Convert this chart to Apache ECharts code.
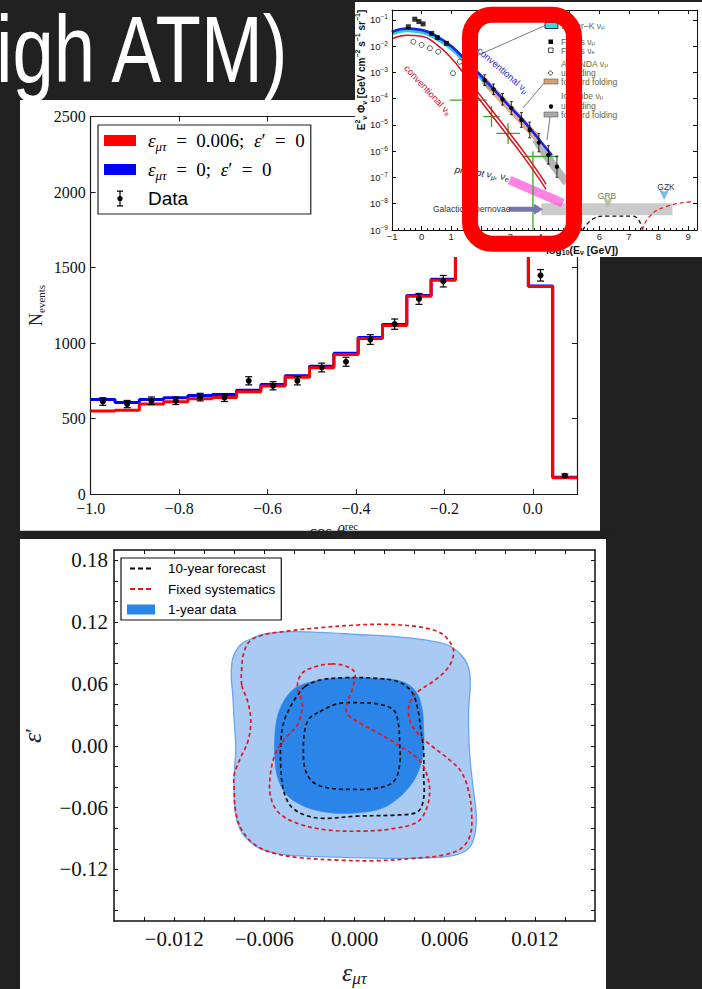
<!DOCTYPE html>
<html>
<head>
<meta charset="utf-8">
<title>NSI fit - atmospheric</title>
<script src="https://cdn.jsdelivr.net/npm/echarts@6/dist/echarts.min.js"></script>
<style>
  html, body { margin: 0; padding: 0; background: #212121; }
  #chart { width: 702px; height: 989px; }
</style>
</head>
<body>
<div id="chart"></div>
<script>
// ---------- top panel: cos(zenith) distribution ----------
var binEdges   = [-1.0, -0.945, -0.89, -0.835, -0.78, -0.725, -0.67, -0.615, -0.56, -0.505, -0.45, -0.395, -0.34, -0.285, -0.23, -0.175, -0.12, -0.065, -0.01, 0.045, 0.1];
var nsiCounts  = [551, 557, 597, 612, 632, 641, 678, 716, 775, 837, 925, 1031, 1117, 1311, 1416, 1690, 1860, 1980, 1375, 110];
var smCounts   = [628, 608, 628, 639, 654, 661, 689, 727, 784, 848, 934, 1037, 1123, 1315, 1423, 1700, 1870, 1990, 1378, 112];
var dataCos    = [-0.9725, -0.9175, -0.8625, -0.8075, -0.7525, -0.6975, -0.6425, -0.5875, -0.5325, -0.4775, -0.4225, -0.3675, -0.3125, -0.2575, -0.2025, -0.1475, -0.0925, -0.0375, 0.0175, 0.0725];
var dataCounts = [614, 597, 619, 619, 643, 639, 751, 718, 751, 839, 877, 1024, 1126, 1293, 1410, 1720, 1880, 2000, 1449, 123];
var dataErr    = [25, 24, 25, 25, 25, 25, 27, 27, 27, 29, 30, 32, 34, 36, 38, 41, 43, 45, 38, 11];

// ---------- bottom panel: allowed regions (eps_mutau, eps') ----------
var tickX  = [-0.014, -0.012, -0.010, -0.008, -0.006, -0.004, -0.002, 0, 0.002, 0.004, 0.006, 0.008, 0.010, 0.012, 0.014];
var labelX = [-0.012, -0.006, 0, 0.006, 0.012];
var tickY  = [-0.16, -0.14, -0.12, -0.10, -0.08, -0.06, -0.04, -0.02, 0, 0.02, 0.04, 0.06, 0.08, 0.10, 0.12, 0.14, 0.16, 0.18];
var labelY = [-0.12, -0.06, 0, 0.06, 0.12, 0.18];

var oneYearOuter = [[-0.0073,0.101],[-0.0061,0.108],[-0.0043,0.1107],[-0.0023,0.110],[0.0002,0.108],[0.0027,0.106],[0.0047,0.1027],[0.0062,0.0978],[0.0071,0.0881],[0.0076,0.0752],[0.0077,0.059],[0.0076,0.0363],[0.0076,0.0105],[0.0077,-0.0154],[0.0079,-0.0413],[0.0081,-0.0672],[0.0080,-0.0866],[0.0076,-0.0995],[0.0067,-0.106],[0.0052,-0.1086],[0.0027,-0.1092],[0.0002,-0.1086],[-0.0023,-0.1076],[-0.0048,-0.1054],[-0.0063,-0.0995],[-0.0073,-0.0882],[-0.0078,-0.0737],[-0.0080,-0.0542],[-0.0080,-0.0284],[-0.0079,-0.0025],[-0.0080,0.0234],[-0.0081,0.0493],[-0.0082,0.0687],[-0.0081,0.0849],[-0.0077,0.0962]];
var oneYearInner = [[-0.0038,0.0574],[-0.0023,0.0638],[-0.0006,0.0661],[0.0014,0.0655],[0.0032,0.0622],[0.0041,0.0525],[0.0045,0.0363],[0.0046,0.0169],[0.0046,-0.0025],[0.0044,-0.0187],[0.0039,-0.0348],[0.0029,-0.051],[0.0017,-0.0614],[-0.0003,-0.0656],[-0.0018,-0.0646],[-0.0033,-0.0591],[-0.0045,-0.0478],[-0.0051,-0.0316],[-0.0053,-0.0122],[-0.0053,0.0105],[-0.0051,0.0299],[-0.0046,0.046]];
var forecastOuter = [[-0.0033,0.0574],[-0.0023,0.0638],[-0.0006,0.0661],[0.0014,0.0655],[0.0029,0.0622],[0.0038,0.0525],[0.0042,0.0363],[0.0044,0.0169],[0.0046,-0.0057],[0.0046,-0.0284],[0.0046,-0.051],[0.0042,-0.064],[0.0027,-0.0672],[0.0002,-0.0682],[-0.0021,-0.0704],[-0.0033,-0.0672],[-0.0042,-0.0591],[-0.0047,-0.0445],[-0.0049,-0.0219],[-0.0049,0.004],[-0.0047,0.0234],[-0.0042,0.0396],[-0.0037,0.0509]];
var forecastInner = [[-0.0023,0.0331],[-0.0011,0.0409],[0.0002,0.0418],[0.0017,0.0402],[0.0026,0.0347],[0.0029,0.0234],[0.0030,0.004],[0.0030,-0.0187],[0.0026,-0.0348],[0.0014,-0.0413],[-0.0003,-0.0423],[-0.0018,-0.0407],[-0.0028,-0.0348],[-0.0033,-0.0219],[-0.0034,-0.0025],[-0.0033,0.0153],[-0.0030,0.0266]];
var fixedOuter = [[-0.0075,0.059],[-0.0075,0.0752],[-0.0074,0.0881],[-0.0070,0.101],[-0.0061,0.1075],[-0.0048,0.1107],[-0.0023,0.1146],[0.0002,0.1172],[0.0019,0.1179],[0.0042,0.1156],[0.0057,0.1098],[0.0064,0.0994],[0.0066,0.0897],[0.0062,0.0752],[0.0052,0.0622],[0.0042,0.0525],[0.0038,0.046],[0.0036,0.0363],[0.0037,0.0234],[0.0043,0.0105],[0.0052,-0.0009],[0.0062,-0.0122],[0.0071,-0.0251],[0.0076,-0.0445],[0.0078,-0.0672],[0.0077,-0.0866],[0.0071,-0.0995],[0.0059,-0.106],[0.0039,-0.1092],[0.0014,-0.1115],[-0.0011,-0.1109],[-0.0036,-0.1086],[-0.0053,-0.1044],[-0.0066,-0.0963],[-0.0075,-0.0817],[-0.0079,-0.064],[-0.0080,-0.0445],[-0.0080,-0.0284],[-0.0076,-0.0122],[-0.0071,0.004],[-0.0069,0.0234],[-0.0071,0.0428]];
var fixedInner = [[-0.0015,0.0794],[-0.0026,0.0768],[-0.0035,0.0703],[-0.0038,0.0574],[-0.0035,0.0428],[-0.0035,0.0331],[-0.0038,0.0202],[-0.0047,0.0056],[-0.0053,-0.009],[-0.0056,-0.0284],[-0.0056,-0.0478],[-0.0051,-0.064],[-0.0038,-0.0753],[-0.0018,-0.0817],[0.0007,-0.0827],[0.0027,-0.0801],[0.0042,-0.0737],[0.0048,-0.0607],[0.0050,-0.0413],[0.0047,-0.0235],[0.0042,-0.0122],[0.0029,0.0008],[0.0014,0.0137],[0.0002,0.0234],[-0.0005,0.0315],[-0.0005,0.0412],[-0.0002,0.0525],[0.0000,0.0638],[0.0000,0.0719],[-0.0006,0.0774]];

// ---------- inset: atmospheric flux, log10(E/GeV) vs log10(E^2 Phi) ----------
var fluxBands  = [[-1, 1.18], [2.27, 4.2], [4.9, 7.0]];
var convMu     = [[-1,-1.45],[-0.5,-1.32],[0,-1.38],[0.5,-1.62],[1,-2.0],[1.5,-2.55],[2,-3.12],[2.5,-3.72],[3,-4.33],[3.5,-4.92],[4,-5.6],[4.4,-6.15]];
var superK     = [[-1,-1.5],[-0.5,-1.37],[0,-1.43],[0.5,-1.67],[1,-2.05],[1.5,-2.6],[2,-3.17],[2.4,-3.65]];
var convE      = [[-1,-1.72],[-0.5,-1.58],[0,-1.62],[0.5,-1.93],[1,-2.45],[1.5,-3.15],[2,-3.9],[2.5,-4.62],[3,-5.35],[3.5,-6.1],[4,-6.9],[4.2,-7.25]];
var convE2     = [[1.8,-3.8],[2.5,-4.82],[3,-5.55],[3.5,-6.3],[4,-7.1],[4.2,-7.45]];
var amandaBand = [[2.1,-3.3],[2.6,-3.9],[3.1,-4.5],[3.6,-5.12],[3.9,-5.5]];
var iceBand    = [[3.85,-5.55],[4.3,-6.3],[4.9,-7.2]];
var iceCubePts = [[2.13,-3.29,0.2],[2.43,-3.64,0.2],[2.73,-4.02,0.22],[3.03,-4.36,0.25],[3.37,-4.81,0.28],[3.65,-5.19,0.3],[3.96,-5.67,0.35],[4.28,-6.14,0.35],[4.57,-6.59,0.4]];
var frejusMu   = [[-0.45,-1.26],[-0.23,-0.97],[-0.09,-1.06],[0.05,-1.15],[0.34,-1.51],[0.53,-1.67],[0.84,-1.89]];
var openPts    = [[-0.28,-1.83],[0,-1.95],[0.28,-2.08],[0.56,-2.21],[1.06,-3.03],[1.29,-2.59]];
var greenCross = [[1.57,-4.05,0.95,2.2,-4.55,-3.55],[2.36,-4.68,2.08,2.64,-5.08,-4.28],[2.92,-5.32,2.52,3.32,-5.72,-4.92],[3.76,-6.2,3.42,4.6,-9,-6.0]];
var promptBand = [[2.97,-7.1],[4.77,-7.98]];
var snBand     = [[4.04,-8.21],[8.47,-8.21]];
var snArrow    = [[2.95,-8.21],[3.95,-8.21]];
var grbFlux    = [[5.44,-9],[5.84,-8.55],[6.23,-8.47],[7.13,-8.47],[7.46,-9]];
var gzkFlux    = [[7.46,-9],[7.69,-8.49],[8.25,-8.11],[9.14,-7.92]];
var grbArrow   = [[6.29,-8.16]];
var gzkArrow   = [[8.19,-7.86]];

var serif = 'Liberation Serif', sans = 'Liberation Sans';

function fmtNum(v, d) {
  if (Math.abs(v) < 1e-12) v = 0;
  return (v < 0 ? '\u2212' : '') + Math.abs(v).toFixed(d);
}
// histogram as step line: one point per bin edge
function stepData(counts) {
  var pts = [];
  for (var i = 0; i < binEdges.length; i++) {
    pts.push([binEdges[i], counts[Math.min(i, counts.length - 1)]]);
  }
  return pts;
}
function axis(o) {
  var a = {
    type: 'value',
    splitLine: {show: false},
    axisLine: {onZero: false, lineStyle: {color: '#1a1a1a', width: 1.2}},
    axisTick: {inside: true, length: 5, lineStyle: {color: '#1a1a1a', width: 1}},
    axisLabel: {show: false},
    nameMoveOverlap: false
  };
  for (var k in o) a[k] = o[k];
  return a;
}

// error bar + dot, used in main panel and inset
function errorBarRenderer(capHalf, r, lw) {
  return function (params, api) {
    var x = api.value(0), y = api.value(1), e = api.value(2);
    var c = api.coord([x, y]), hi = api.coord([x, y + e]), lo = api.coord([x, y - e]);
    var st = {stroke: '#000', lineWidth: lw};
    return {type: 'group', children: [
      {type: 'line', shape: {x1: c[0], y1: hi[1], x2: c[0], y2: lo[1]}, style: st},
      {type: 'line', shape: {x1: c[0] - capHalf, y1: hi[1], x2: c[0] + capHalf, y2: hi[1]}, style: st},
      {type: 'line', shape: {x1: c[0] - capHalf, y1: lo[1], x2: c[0] + capHalf, y2: lo[1]}, style: st},
      {type: 'circle', shape: {cx: c[0], cy: c[1], r: r}, style: {fill: '#000'}}
    ]};
  };
}
// closed contour polygons in the (eps_mutau, eps') plane
function contourSeries(name, color, z, shapes) {
  return {
    type: 'custom', name: name, xAxisIndex: 2, yAxisIndex: 2, z: z, clip: true,
    itemStyle: {color: color}, data: [[0, 0]], encode: {x: 0, y: 1},
    renderItem: function (params, api) {
      return {type: 'group', children: shapes.map(function (s) {
        return {type: 'polygon', shape: {points: s.pts.map(function (p) { return api.coord(p); }), smooth: 0.35}, style: s.style};
      })};
    }
  };
}
function insetLine(data, color, width, z, extra) {
  var s = {type: 'line', xAxisIndex: 4, yAxisIndex: 4, data: data, symbol: 'none', z: z,
    lineStyle: {color: color, width: width}, silent: true};
  for (var k in extra) s[k] = extra[k];
  return s;
}

var rectIcon = 'path://M0,0zM32,18zM0,3.5h32v11h-32z';
var errIcon  = 'path://M0,0zM32,18zM13,1h6v1.2h-6zM15.4,1h1.2v16h-1.2zM13,15.8h6v1.2h-6zM18.6,9a2.6,2.6 0 1,1 -5.2,0a2.6,2.6 0 1,1 5.2,0z';
var dashIcon = 'path://M0,0zM28,10zM3,4h5v2h-5zM11,4h5v2h-5zM19,4h5v2h-5z';

var topLegendText = {
  nsi: '{i|ε}{sub|μτ}{r|  =  0.006;  }{i|ε}{r|′  =  0}',
  sm: '{i|ε}{sub|μτ}{r|  =  0;  }{i|ε}{r|′  =  0}',
  Data: '{sans|Data}'
};

var lavender = '#b8b8f0', pink = '#f8c4c4', yellow = '#ffff9c';
var insetText = '#66663c';

var graphicEls = [
  // white slide panels
  {type: 'rect', z: -1, shape: {x: 20, y: 100, width: 580, height: 431}, style: {fill: '#fff'}},
  {type: 'rect', z: -1, shape: {x: 20, y: 539, width: 586, height: 450}, style: {fill: '#fff'}},
  // slide title (cut off on the left, as on the slide)
  {type: 'text', z: 1, x: -4, y: 49, scaleX: 0.79,
    style: {text: 'igh ATM)', fill: '#fff', fontSize: 94, fontFamily: sans, align: 'left', verticalAlign: 'middle'}},
  // inset background
  {type: 'rect', z: 10, shape: {x: 355, y: 2, width: 347, height: 255}, style: {fill: '#fff'}},
  // inset titles
  {type: 'text', z: 20, x: 361, y: 70, rotation: Math.PI / 2,
    style: {text: '{b|E}{sp|2}{sb|ν}{b| Φ}{sb|ν}{b| [GeV cm}{sp|−2}{b| s}{sp|−1}{b| sr}{sp|−1}{b|]}', align: 'center', verticalAlign: 'middle',
      rich: {b: {fontSize: 10, fontWeight: 'bold', fontFamily: sans, fill: '#111', lineHeight: 14},
             sp: {fontSize: 7, fontWeight: 'bold', fontFamily: sans, fill: '#111', lineHeight: 8, verticalAlign: 'top'},
             sb: {fontSize: 7, fontWeight: 'bold', fontFamily: sans, fill: '#111', lineHeight: 8, verticalAlign: 'bottom'}}}},
  {type: 'text', z: 20, x: 546, y: 250,
    style: {text: '{b|log}{sb|10}{b|(E}{sb|ν}{b| [GeV])}', align: 'left', verticalAlign: 'middle',
      rich: {b: {fontSize: 10.5, fontWeight: 'bold', fontFamily: sans, fill: '#111', lineHeight: 12},
             sb: {fontSize: 7, fontWeight: 'bold', fontFamily: sans, fill: '#111', lineHeight: 7, verticalAlign: 'bottom'}}}},
  // inset annotations
  {type: 'text', z: 20, x: 428, y: 90, rotation: -0.82,
    style: {text: '{t|conventional ν}{s|e}', align: 'center', verticalAlign: 'middle',
      rich: {t: {fontSize: 9.5, fontFamily: sans, fill: '#d2102a', lineHeight: 12}, s: {fontSize: 7, fontFamily: sans, fill: '#d2102a', lineHeight: 7, verticalAlign: 'bottom'}}}},
  {type: 'text', z: 20, x: 503, y: 70, rotation: -0.71,
    style: {text: '{t|conventional ν}{s|μ}', align: 'center', verticalAlign: 'middle',
      rich: {t: {fontSize: 9.5, fontFamily: sans, fill: '#2a2ad0', lineHeight: 12}, s: {fontSize: 7, fontFamily: sans, fill: '#2a2ad0', lineHeight: 7, verticalAlign: 'bottom'}}}},
  {type: 'text', z: 20, x: 482, y: 173, rotation: -0.15,
    style: {text: '{t|prompt ν}{s|μ}{t|, ν}{s|e}', align: 'center', verticalAlign: 'middle',
      rich: {t: {fontSize: 9.5, fontStyle: 'italic', fontFamily: sans, fill: '#222', lineHeight: 12}, s: {fontSize: 7, fontStyle: 'italic', fontFamily: sans, fill: '#222', lineHeight: 7, verticalAlign: 'bottom'}}}},
  {type: 'text', z: 20, x: 433, y: 209, style: {text: 'Galactic supernovae', fontSize: 8.5, fontFamily: sans, fill: '#333', align: 'left', verticalAlign: 'middle'}},
  {type: 'text', z: 20, x: 607, y: 196, style: {text: 'GRB', fontSize: 8.5, fontFamily: sans, fill: '#7a7a40', align: 'center', verticalAlign: 'middle'}},
  {type: 'text', z: 20, x: 666, y: 187, style: {text: 'GZK', fontSize: 8.5, fontFamily: sans, fill: '#333', align: 'center', verticalAlign: 'middle'}},
  // inset legend
  {type: 'line', z: 20, shape: {x1: 545, y1: 25.5, x2: 463, y2: 62}, style: {stroke: '#444', lineWidth: 0.7}},
  {type: 'line', z: 20, shape: {x1: 545, y1: 82, x2: 523, y2: 108}, style: {stroke: '#444', lineWidth: 0.7}},
  {type: 'line', z: 20, shape: {x1: 550, y1: 117, x2: 547, y2: 140}, style: {stroke: '#444', lineWidth: 0.7}},
  {type: 'rect', z: 20, shape: {x: 545, y: 22.5, width: 13, height: 6}, style: {fill: '#33dddd', stroke: '#111', lineWidth: 0.8}},
  {type: 'rect', z: 20, shape: {x: 548.5, y: 39.5, width: 4.5, height: 4.5}, style: {fill: '#000'}},
  {type: 'rect', z: 20, shape: {x: 548.5, y: 48, width: 4.5, height: 4.5}, style: {fill: '#fff', stroke: '#222', lineWidth: 0.8}},
  {type: 'circle', z: 20, shape: {cx: 550.5, cy: 73, r: 2}, style: {fill: '#fff', stroke: '#222', lineWidth: 0.8}},
  {type: 'rect', z: 20, shape: {x: 544, y: 79, width: 14, height: 5}, style: {fill: '#d9a074', stroke: '#555', lineWidth: 0.6}},
  {type: 'circle', z: 20, shape: {cx: 551, cy: 106.5, r: 2.2}, style: {fill: '#000'}},
  {type: 'rect', z: 20, shape: {x: 544, y: 112, width: 14, height: 5}, style: {fill: '#aaa', stroke: '#555', lineWidth: 0.6}}
];
var insetLegend = [
  [25.5, '{t|Super–K ν}{s|μ}'], [41.5, '{t|Frejus ν}{s|μ}'], [50.5, '{t|Frejus ν}{s|e}'],
  [64, '{t|AMANDA ν}{s|μ}'], [72.5, '{t|unfolding}'], [81.5, '{t|forward folding}'],
  [96, '{t|IceCube ν}{s|μ}'], [105.5, '{t|unfolding}'], [114.5, '{t|forward folding}']
];
insetLegend.forEach(function (it) {
  graphicEls.push({type: 'text', z: 20, x: 561, y: it[0],
    style: {text: it[1], align: 'left', verticalAlign: 'middle',
      rich: {t: {fontSize: 8.6, fontFamily: sans, fill: insetText, lineHeight: 8}, s: {fontSize: 6, fontFamily: sans, fill: insetText, lineHeight: 5, verticalAlign: 'bottom'}}}});
});
// crop strip under the top panel and the red highlight box
graphicEls.push({type: 'rect', z: 50, shape: {x: 18, y: 530.7, width: 600, height: 8.3}, style: {fill: '#212121'}});
graphicEls.push({type: 'rect', z: 60, shape: {x: 470, y: 14.7, width: 104, height: 229, r: 22}, style: {fill: 'none', stroke: '#ff0000', lineWidth: 16}});

var insetAxisLine = {onZero: false, lineStyle: {color: '#111', width: 1}};
var insetTick = {inside: true, length: 4, lineStyle: {color: '#111'}};

var option = {
  animation: false,
  backgroundColor: '#212121',
  grid: [
    {left: 90.7, top: 116.5, width: 486.3, height: 377.8, outerBoundsMode: 'none'},
    {left: 114, top: 550, width: 481, height: 371, outerBoundsMode: 'none'},
    {left: 392, top: 10, width: 305, height: 220, outerBoundsMode: 'none'}
  ],
  legend: [
    {
      left: 98, top: 125, orient: 'vertical', selectedMode: false,
      data: [{name: 'nsi', icon: rectIcon}, {name: 'sm', icon: rectIcon}, {name: 'Data', icon: errIcon}],
      formatter: function (n) { return topLegendText[n]; },
      itemWidth: 32, itemHeight: 18, itemGap: 7.5, padding: [6, 6, 6, 6],
      itemStyle: {borderWidth: 0},
      backgroundColor: '#fff', borderColor: '#222', borderWidth: 1.2,
      textStyle: {color: '#000', padding: [0, 0, 0, 7], rich: {
        i: {fontFamily: serif, fontStyle: 'italic', fontSize: 19, lineHeight: 24, color: '#000'},
        sub: {fontFamily: serif, fontStyle: 'italic', fontSize: 13, lineHeight: 12, verticalAlign: 'bottom', color: '#000'},
        r: {fontFamily: serif, fontSize: 19, lineHeight: 24, color: '#000'},
        sans: {fontFamily: sans, fontSize: 19, lineHeight: 24, color: '#000'}
      }}
    },
    {
      left: 121, top: 558, orient: 'vertical', selectedMode: false,
      data: [{name: '10-year forecast', icon: dashIcon}, {name: 'Fixed systematics', icon: dashIcon}, {name: '1-year data', icon: 'rect'}],
      itemWidth: 28, itemHeight: 10, itemGap: 3.5, padding: [2, 6, 2, 6],
      itemStyle: {borderWidth: 0},
      backgroundColor: '#fff', borderColor: '#111', borderWidth: 1.2,
      textStyle: {fontFamily: sans, fontSize: 13.5, color: '#000', lineHeight: 17, padding: [0, 0, 0, 8]}
    }
  ],
  xAxis: [
    axis({gridIndex: 0, position: 'bottom', min: -1, max: 0.1, interval: 0.2,
      axisLabel: {fontFamily: serif, fontSize: 16, color: '#111', margin: 6, showMaxLabel: false, formatter: function (v) { return fmtNum(v, 1); }},
      name: '{r|cos }{i|θ}{sup|rec}', nameLocation: 'middle', nameGap: 26,
      nameTextStyle: {rich: {
        r: {fontFamily: serif, fontSize: 17, color: '#222', lineHeight: 22},
        i: {fontFamily: serif, fontStyle: 'italic', fontSize: 17, color: '#222', lineHeight: 22},
        sup: {fontFamily: serif, fontSize: 11, color: '#222', lineHeight: 11, verticalAlign: 'top'}
      }}}),
    axis({gridIndex: 0, position: 'top', min: -1, max: 0.1, interval: 0.2}),
    axis({gridIndex: 1, position: 'bottom', min: -0.016, max: 0.016,
      axisLine: {onZero: false, lineStyle: {color: '#111', width: 1.5}},
      axisTick: {inside: true, length: 4, customValues: tickX, lineStyle: {color: '#111'}},
      axisLabel: {fontFamily: serif, fontSize: 21, color: '#111', margin: 7, customValues: labelX, formatter: function (v) { return fmtNum(v, 3); }},
      name: '{e|ε}{s|μτ}', nameLocation: 'middle', nameGap: 36,
      nameTextStyle: {rich: {
        e: {fontFamily: serif, fontStyle: 'italic', fontSize: 26, color: '#222', lineHeight: 30},
        s: {fontFamily: serif, fontStyle: 'italic', fontSize: 17, color: '#222', lineHeight: 17, verticalAlign: 'bottom'}
      }}}),
    axis({gridIndex: 1, position: 'top', min: -0.016, max: 0.016,
      axisLine: {onZero: false, lineStyle: {color: '#111', width: 1.5}},
      axisTick: {inside: true, length: 4, customValues: tickX, lineStyle: {color: '#111'}}}),
    axis({gridIndex: 2, position: 'bottom', min: -1, max: 9.3, interval: 1, z: 14,
      axisLine: insetAxisLine, axisTick: insetTick,
      minorTick: {show: true, splitNumber: 5, length: 2, lineStyle: {color: '#111'}},
      axisLabel: {fontFamily: sans, fontSize: 9.5, color: '#222', margin: 1.5, showMaxLabel: false,
        formatter: function (v) { return (v < 0 ? '\u2212' : '') + Math.abs(v); }}}),
    axis({gridIndex: 2, position: 'top', min: -1, max: 9.3, interval: 1, z: 14,
      axisLine: insetAxisLine, axisTick: insetTick})
  ],
  yAxis: [
    axis({gridIndex: 0, position: 'left', min: 0, max: 2500, interval: 500,
      axisLabel: {fontFamily: serif, fontSize: 16, color: '#111', margin: 5, formatter: function (v) { return String(v); }},
      name: '{n|N}{s|events}', nameLocation: 'middle', nameGap: 44,
      nameTextStyle: {rich: {
        n: {fontFamily: serif, fontSize: 18, color: '#222', lineHeight: 22},
        s: {fontFamily: serif, fontSize: 11, color: '#222', lineHeight: 11, verticalAlign: 'bottom'}
      }}}),
    axis({gridIndex: 0, position: 'right', min: 0, max: 2500, interval: 500}),
    axis({gridIndex: 1, position: 'left', min: -0.17, max: 0.19,
      axisLine: {onZero: false, lineStyle: {color: '#111', width: 1.5}},
      axisTick: {inside: true, length: 4, customValues: tickY, lineStyle: {color: '#111'}},
      axisLabel: {fontFamily: serif, fontSize: 21, color: '#111', margin: 6, customValues: labelY, formatter: function (v) { return fmtNum(v, 2); }},
      name: '{e|ε}{p|′}', nameLocation: 'middle', nameGap: 67,
      nameTextStyle: {rich: {
        e: {fontFamily: serif, fontStyle: 'italic', fontSize: 26, color: '#222', lineHeight: 30},
        p: {fontFamily: serif, fontSize: 22, color: '#222', lineHeight: 30}
      }}}),
    axis({gridIndex: 1, position: 'right', min: -0.17, max: 0.19,
      axisLine: {onZero: false, lineStyle: {color: '#111', width: 1.5}},
      axisTick: {inside: true, length: 4, customValues: tickY, lineStyle: {color: '#111'}}}),
    axis({gridIndex: 2, position: 'left', min: -9, max: -0.62, interval: 1, z: 14,
      axisLine: insetAxisLine, axisTick: insetTick,
      axisLabel: {margin: 4, showMaxLabel: false,
        formatter: function (v) { var n = Math.round(v); return '{b|10}{s|' + (n < 0 ? '\u2212' : '') + Math.abs(n) + '}'; },
        rich: {b: {fontFamily: sans, fontSize: 9.5, color: '#222', lineHeight: 13},
               s: {fontFamily: sans, fontSize: 6.5, color: '#222', lineHeight: 7, verticalAlign: 'top'}}}}),
    axis({gridIndex: 2, position: 'right', min: -9, max: -0.62, interval: 1, z: 14,
      axisLine: insetAxisLine, axisTick: insetTick})
  ],
  graphic: {elements: graphicEls},
  series: [
    // ----- top panel -----
    {name: 'sm', type: 'line', xAxisIndex: 0, yAxisIndex: 0, step: 'end', data: stepData(smCounts),
      symbol: 'none', color: '#0000ff', lineStyle: {color: '#0000ff', width: 3}, z: 2},
    {name: 'nsi', type: 'line', xAxisIndex: 0, yAxisIndex: 0, step: 'end', data: stepData(nsiCounts),
      symbol: 'none', color: '#ff0000', lineStyle: {color: '#ff0000', width: 3}, z: 3},
    {name: 'Data', type: 'custom', xAxisIndex: 0, yAxisIndex: 0, z: 4,
      itemStyle: {color: '#000'}, dimensions: ['x', 'y', 'err'], encode: {x: 0, y: 1},
      data: dataCos.map(function (c, i) { return [c, dataCounts[i], dataErr[i]]; }),
      renderItem: errorBarRenderer(3.5, 3, 1.2)},

    // ----- bottom panel -----
    contourSeries('1-year data', '#2b84e8', 2, [
      {pts: oneYearOuter, style: {fill: '#a9caf2', stroke: '#6aa6ee', lineWidth: 1.3}},
      {pts: oneYearInner, style: {fill: '#2b84e8', stroke: '#2b84e8', lineWidth: 0.5}}
    ]),
    contourSeries('10-year forecast', '#000', 3, [
      {pts: forecastOuter, style: {fill: 'none', stroke: '#111', lineWidth: 1.7, lineDash: [4, 3]}},
      {pts: forecastInner, style: {fill: 'none', stroke: '#111', lineWidth: 1.7, lineDash: [4, 3]}}
    ]),
    contourSeries('Fixed systematics', '#e3171f', 4, [
      {pts: fixedOuter, style: {fill: 'none', stroke: '#e3171f', lineWidth: 1.7, lineDash: [4, 3]}},
      {pts: fixedInner, style: {fill: 'none', stroke: '#e3171f', lineWidth: 1.7, lineDash: [4, 3]}}
    ]),

    // ----- inset -----
    insetLine([[-1, -9]], 'rgba(0,0,0,0)', 0, 11, {
      markArea: {silent: true, data: [
        [{xAxis: fluxBands[0][0], itemStyle: {color: lavender}}, {xAxis: fluxBands[0][1]}],
        [{xAxis: fluxBands[1][0], itemStyle: {color: pink}}, {xAxis: fluxBands[1][1]}],
        [{xAxis: fluxBands[2][0], itemStyle: {color: yellow}}, {xAxis: fluxBands[2][1]}]
      ]}}),
    insetLine(snBand, 'rgba(160,160,160,0.55)', 12, 12),
    insetLine(promptBand, 'rgba(255,90,220,0.75)', 9, 12),
    insetLine(superK, '#2ccbd8', 5, 12, {smooth: true}),
    insetLine(amandaBand, 'rgba(205,140,100,0.7)', 7, 12, {smooth: true}),
    insetLine(iceBand, 'rgba(120,120,120,0.55)', 8, 12, {smooth: true}),
    insetLine(convMu, '#1f1fe6', 2.5, 13, {smooth: true}),
    insetLine(convE, '#e0101c', 1.5, 13, {smooth: true}),
    insetLine(convE2, '#e0101c', 1.5, 13, {smooth: true}),
    insetLine(grbFlux, '#111', 1.3, 13, {smooth: true, lineStyle: {color: '#111', width: 1.3, type: [4, 3]}}),
    insetLine(gzkFlux, '#e82020', 1.3, 13, {smooth: true, lineStyle: {color: '#e82020', width: 1.3, type: [4, 3]}}),
    insetLine([{value: snArrow[0], symbol: 'none'}, {value: snArrow[1], symbol: 'triangle', symbolSize: [11, 9], symbolRotate: -90}],
      '#7878b0', 5, 13, {symbol: 'none', showSymbol: true, itemStyle: {color: '#7878b0'}}),
    {type: 'scatter', xAxisIndex: 4, yAxisIndex: 4, z: 13, silent: true, data: grbArrow, symbol: 'arrow', symbolRotate: 180, symbolSize: [8, 11], itemStyle: {color: '#a9bb8e'}},
    {type: 'scatter', xAxisIndex: 4, yAxisIndex: 4, z: 13, silent: true, data: gzkArrow, symbol: 'arrow', symbolRotate: 180, symbolSize: [8, 11], itemStyle: {color: '#58a6ea'}},
    {type: 'custom', xAxisIndex: 4, yAxisIndex: 4, z: 13, silent: true, data: greenCross, encode: {x: 0, y: 1},
      renderItem: function (params, api) {
        var c = api.coord([api.value(0), api.value(1)]);
        var l = api.coord([api.value(2), api.value(1)]), r = api.coord([api.value(3), api.value(1)]);
        var lo = api.coord([api.value(0), api.value(4)]), hi = api.coord([api.value(0), api.value(5)]);
        var st = {stroke: '#3aa82a', lineWidth: 1.3};
        return {type: 'group', children: [
          {type: 'line', shape: {x1: l[0], y1: c[1], x2: r[0], y2: c[1]}, style: st},
          {type: 'line', shape: {x1: c[0], y1: lo[1], x2: c[0], y2: hi[1]}, style: st}
        ]};
      }},
    {type: 'custom', xAxisIndex: 4, yAxisIndex: 4, z: 14, silent: true, data: iceCubePts, encode: {x: 0, y: 1},
      renderItem: errorBarRenderer(1.5, 2.2, 0.8)},
    {type: 'scatter', xAxisIndex: 4, yAxisIndex: 4, z: 14, silent: true, data: frejusMu, symbol: 'rect', symbolSize: 5, itemStyle: {color: '#000'}},
    {type: 'scatter', xAxisIndex: 4, yAxisIndex: 4, z: 14, silent: true, data: openPts, symbol: 'circle', symbolSize: 5, itemStyle: {color: '#fff', borderColor: '#333', borderWidth: 1}}
  ]
};

var chart = echarts.init(document.getElementById('chart'), null, {renderer: 'svg'});
chart.setOption(option);
</script>
</body>
</html>
